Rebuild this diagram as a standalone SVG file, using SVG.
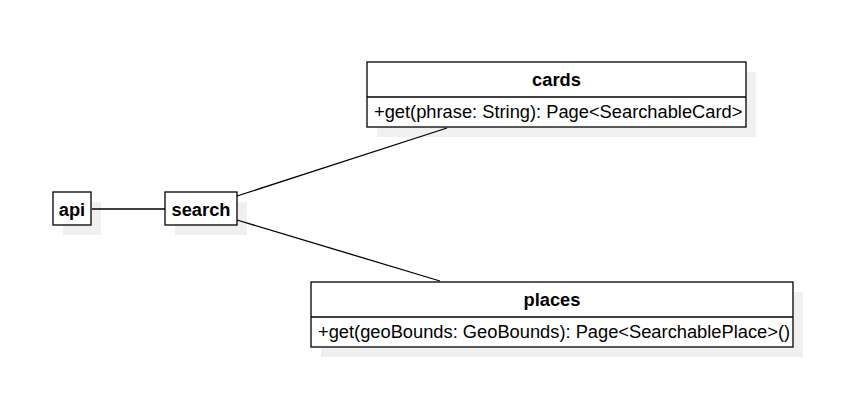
<svg xmlns="http://www.w3.org/2000/svg" width="858" height="409" viewBox="0 0 858 409">
<style>
.box{fill:#ffffff;stroke:#000000;stroke-width:1.3}
.sh{fill:#f0f0f0}
.t{font-family:"Liberation Sans",Arial,sans-serif;font-size:18.3px;fill:#000}
.b{font-weight:bold;text-anchor:middle}
.edge{stroke:#000;stroke-width:1.3;fill:none}
</style>
<rect width="858" height="409" fill="#ffffff"/>
<g id="api">
<rect class="sh" x="63" y="202" width="38" height="33"/>
<rect class="box" x="53" y="192" width="38" height="33"/>
<text class="t b" x="72" y="215.5">api</text>
</g>
<g id="search">
<rect class="sh" x="175" y="202" width="72" height="33"/>
<rect class="box" x="165" y="192" width="72" height="33"/>
<text class="t b" x="201" y="215.5">search</text>
</g>
<g id="cards">
<rect class="sh" x="377" y="72" width="379" height="65"/>
<rect class="box" x="367" y="62" width="379" height="65"/>
<line class="edge" x1="367" y1="97" x2="746" y2="97"/>
<text class="t b" x="556.5" y="86">cards</text>
<text class="t" x="374" y="118">+get(phrase: String): Page&lt;SearchableCard&gt;</text>
</g>
<g id="places">
<rect class="sh" x="321" y="292" width="482" height="65"/>
<rect class="box" x="311" y="282" width="482" height="65"/>
<line class="edge" x1="311" y1="317" x2="793" y2="317"/>
<text class="t b" x="552" y="306">places</text>
<text class="t" x="318" y="338">+get(geoBounds: GeoBounds): Page&lt;SearchablePlace&gt;()</text>
</g>
<g id="connectors">
<line class="edge" x1="92" y1="209" x2="165" y2="209"/>
<line class="edge" x1="237" y1="196" x2="447" y2="128"/>
<line class="edge" x1="237" y1="220" x2="440" y2="281"/>
</g>
</svg>
